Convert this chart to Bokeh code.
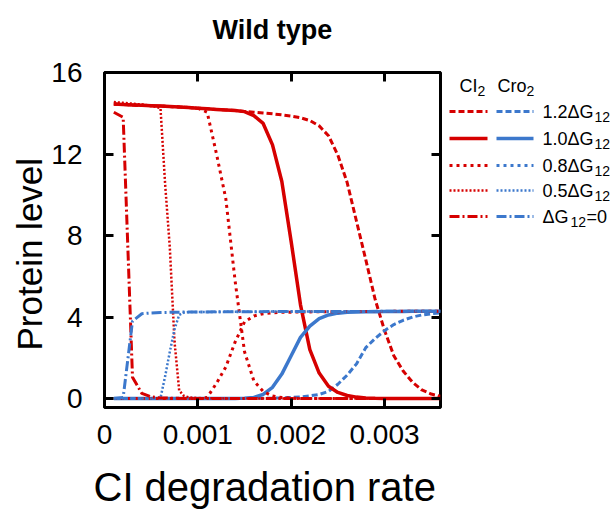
from bokeh.plotting import figure
from bokeh.models import Range1d, LinearAxis, FixedTicker, Title
from bokeh.layouts import row
from bokeh.core.properties import value
from bokeh.embed import file_html
from bokeh.resources import INLINE

# ---------------- data ----------------
x_ticks = [0, 0.001, 0.002, 0.003]
x_tick_labels = ["0", "0.001", "0.002", "0.003"]
y_ticks = [0, 4, 8, 12, 16]

rate = [0.0001, 0.0002, 0.0003, 0.0004, 0.0005, 0.0006, 0.0007, 0.0008, 0.0009, 0.0010,
        0.0011, 0.0012, 0.0013, 0.0014, 0.0015, 0.0016, 0.0017, 0.0018, 0.0019, 0.0020,
        0.0021, 0.0022, 0.0023, 0.0024, 0.0025, 0.0026, 0.0027, 0.0028, 0.0029, 0.0030,
        0.0031, 0.0032, 0.0033, 0.0034, 0.0035, 0.0036]

ci2_g12 = [14.45, 14.43, 14.41, 14.39, 14.37, 14.35, 14.33, 14.31, 14.28, 14.25,
           14.22, 14.19, 14.16, 14.13, 14.09, 14.05, 14.01, 13.97, 13.92, 13.86,
           13.78, 13.64, 13.38, 12.90, 11.95, 10.60, 8.70, 6.80, 4.86, 3.35,
           2.10, 1.35, 0.80, 0.42, 0.22, 0.11]
cro2_g12 = [0, 0, 0, 0, 0, 0, 0, 0, 0, 0,
            0, 0, 0, 0, 0, 0.01, 0.01, 0.02, 0.03, 0.05,
            0.08, 0.13, 0.20, 0.35, 0.70, 1.15, 1.70, 2.50, 2.95, 3.33,
            3.63, 3.84, 4.00, 4.10, 4.16, 4.20]

ci2_g10 = [14.45, 14.43, 14.41, 14.39, 14.37, 14.35, 14.33, 14.31, 14.28, 14.25,
           14.22, 14.19, 14.16, 14.13, 14.08, 13.88, 13.50, 12.45, 10.65, 7.70,
           4.60, 2.40, 1.25, 0.60, 0.30, 0.15, 0.07, 0.03, 0.01, 0,
           0, 0, 0, 0, 0, 0]
cro2_g10 = [0, 0, 0, 0, 0, 0, 0, 0, 0, 0,
            0, 0, 0, 0, 0.02, 0.05, 0.20, 0.55, 1.20, 2.10,
            3.00, 3.55, 3.92, 4.10, 4.19, 4.23, 4.25, 4.26, 4.26, 4.27,
            4.27, 4.27, 4.28, 4.28, 4.28, 4.28]

ci2_g08 = [14.45, 14.43, 14.41, 14.39, 14.37, 14.35, 14.33, 14.31, 14.28, 14.25,
           14.05, 12.00, 9.80, 5.75, 2.30, 0.87, 0.35, 0.12, 0.05, 0.02,
           0, 0, 0, 0, 0, 0, 0, 0, 0, 0,
           0, 0, 0, 0, 0, 0]
cro2_g08 = [0, 0, 0, 0, 0, 0, 0, 0, 0, 0,
            0.05, 0.75, 1.55, 2.78, 3.76, 4.05, 4.16, 4.21, 4.23, 4.24,
            4.25, 4.25, 4.26, 4.26, 4.26, 4.27, 4.27, 4.27, 4.27, 4.27,
            4.28, 4.28, 4.28, 4.28, 4.28, 4.28]

rate_g05 = [0.0001, 0.0002, 0.0003, 0.0004, 0.0005, 0.0006, 0.00065, 0.0007, 0.00075,
            0.0008, 0.00085, 0.0009, 0.0010, 0.0012, 0.0015, 0.0020, 0.0025, 0.0030, 0.0036]
ci2_g05 = [14.55, 14.51, 14.47, 14.43, 14.38, 14.25, 10.50, 7.40, 2.80,
           0.40, 0.13, 0.06, 0.02, 0.01, 0, 0, 0, 0, 0]
cro2_g05 = [0, 0, 0, 0, 0, 0.03, 1.10, 2.30, 3.40,
            4.10, 4.22, 4.24, 4.25, 4.25, 4.26, 4.27, 4.27, 4.28, 4.28]

rate_g00 = [0.0001, 0.0002, 0.0003, 0.0004, 0.0005, 0.0006, 0.0008, 0.0010, 0.0015,
            0.0020, 0.0025, 0.0030, 0.0036]
ci2_g00 = [14.05, 13.80, 1.05, 0.25, 0.08, 0.03, 0.01, 0, 0, 0, 0, 0, 0]
cro2_g00 = [0, 0.05, 3.80, 4.16, 4.20, 4.22, 4.24, 4.25, 4.26, 4.27, 4.27, 4.28, 4.28]

# legend texts: main part, subscript, tail
legend_main = ["1.2\u0394G", "1.0\u0394G", "0.8\u0394G", "0.5\u0394G", "\u0394G"]
legend_sub = ["12", "12", "12", "12", "12"]
legend_tail = ["", "", "", "", "=0"]
legend_headers = ["CI", "Cro"]
legend_header_subs = ["2", "2"]

# ---------------- styles / layout ----------------
RED = "#d60000"
BLUE = "#3c78cc"
FONT = "Liberation Sans"
styles = {
    "g12": dict(line_dash="6 3", line_width=3),
    "g10": dict(line_dash="solid", line_width=3.5),
    "g08": dict(line_dash="3 4", line_width=3),
    "g05": dict(line_dash="2 2", line_width=2.5),
    "g00": dict(line_dash="10 3 2 3", line_width=3),
}

p = figure(width=444, height=512, output_backend="svg", toolbar_location=None, title=None,
           x_range=Range1d(0, 0.0036), y_range=Range1d(-0.44, 16),
           min_border_left=104, min_border_right=4, min_border_top=72, min_border_bottom=105)

series = [
    ("g12", rate, ci2_g12, RED), ("g12", rate, cro2_g12, BLUE),
    ("g10", rate, ci2_g10, RED), ("g10", rate, cro2_g10, BLUE),
    ("g08", rate, ci2_g08, RED), ("g08", rate, cro2_g08, RED),
    ("g05", rate_g05, ci2_g05, RED), ("g05", rate_g05, cro2_g05, BLUE),
    ("g00", rate_g00, ci2_g00, RED), ("g00", rate_g00, cro2_g00, BLUE),
]
for key, xs, ys, col in series:
    p.line(xs, ys, line_color=col, **styles[key])

p.grid.visible = False
p.outline_line_color = "black"
p.outline_line_width = 3

p.xaxis.ticker = FixedTicker(ticks=x_ticks)
p.xaxis.major_label_overrides = dict(zip(x_ticks, x_tick_labels))
p.yaxis.ticker = FixedTicker(ticks=y_ticks)
for ax in p.axis:
    ax.axis_line_color = None
    ax.major_tick_in = 9
    ax.major_tick_out = 0
    ax.major_tick_line_width = 3
    ax.minor_tick_line_color = None
    ax.major_label_text_font = FONT
    ax.major_label_text_font_size = "28px"
    ax.major_label_text_color = "black"
p.xaxis.major_label_standoff = 17
p.yaxis.major_label_standoff = 22

top = LinearAxis(ticker=FixedTicker(ticks=x_ticks), axis_label="Wild type")
right = LinearAxis(ticker=FixedTicker(ticks=y_ticks))
for ax in (top, right):
    ax.axis_line_color = None
    ax.major_tick_in = 9
    ax.major_tick_out = 0
    ax.major_tick_line_width = 3
    ax.minor_tick_line_color = None
    ax.major_label_text_font_size = "1px"
    ax.major_label_text_color = None
    ax.major_label_standoff = 0
top.axis_label_text_font = FONT
top.axis_label_text_font_size = "27px"
top.axis_label_text_font_style = "bold"
top.axis_label_text_color = "black"
top.axis_label_standoff = 28
p.add_layout(top, "above")
p.add_layout(right, "right")

# invisible spacer between the x axis and its title (transparent outward tick)
spacer = LinearAxis(ticker=FixedTicker(ticks=[0.001]), major_tick_out=16, major_tick_in=0,
                    major_tick_line_color="white", major_tick_line_alpha=0,
                    minor_tick_line_color=None, axis_line_color=None,
                    major_label_text_color=None, major_label_text_font_size="1px",
                    major_label_standoff=0)
p.add_layout(spacer, "below")

xlab = Title(text="CI degradation rate", align="left", offset=-11, standoff=0,
             text_font=FONT, text_font_size="40px", text_font_style="normal",
             text_color="black", vertical_align="bottom")
ylab = Title(text="Protein level", align="left", offset=57, standoff=0,
             text_font=FONT, text_font_size="35px", text_font_style="normal",
             text_color="black", vertical_align="bottom")
p.add_layout(xlab, "below")
p.add_layout(ylab, "left")

# ---------------- legend panel (coordinates = page pixels) ----------------
lg = figure(width=172, height=512, output_backend="svg", toolbar_location=None,
            x_range=Range1d(444, 616), y_range=Range1d(407, 72),
            x_axis_location=None, y_axis_location=None,
            min_border_left=0, min_border_right=0, min_border_top=72, min_border_bottom=105)
lg.grid.visible = False
lg.outline_line_color = None

row_y = [111, 138, 165, 190, 216]
keys = ["g12", "g10", "g08", "g05", "g00"]
sub_x = [594, 594, 594, 594, 570]
tail_x = [0, 0, 0, 0, 586]
for k, yy, m, s, t, sx, tx in zip(keys, row_y, legend_main, legend_sub, legend_tail,
                                   sub_x, tail_x):
    lg.line([449, 487], [yy, yy], line_color=RED, **styles[k])
    lg.line([496, 533], [yy, yy], line_color=BLUE, **styles[k])
    lg.text([542], [yy], text=[m], text_font=value(FONT), text_font_size="18px",
            text_baseline="middle", text_color="black")
    lg.text([sx], [yy + 5], text=[s], text_font=value(FONT), text_font_size="14px",
            text_baseline="middle", text_color="black")
    if t:
        lg.text([tx], [yy], text=[t], text_font=value(FONT), text_font_size="18px",
                text_baseline="middle", text_color="black")
lg.text([459, 497], [85, 85], text=legend_headers, text_font=value(FONT),
        text_font_size="18px", text_baseline="middle", text_color="black")
lg.text([477, 526], [90, 90], text=legend_header_subs, text_font=value(FONT),
        text_font_size="14px", text_baseline="middle", text_color="black")

layout = row(p, lg)
open("out.html", "w").write(file_html(layout, INLINE))
